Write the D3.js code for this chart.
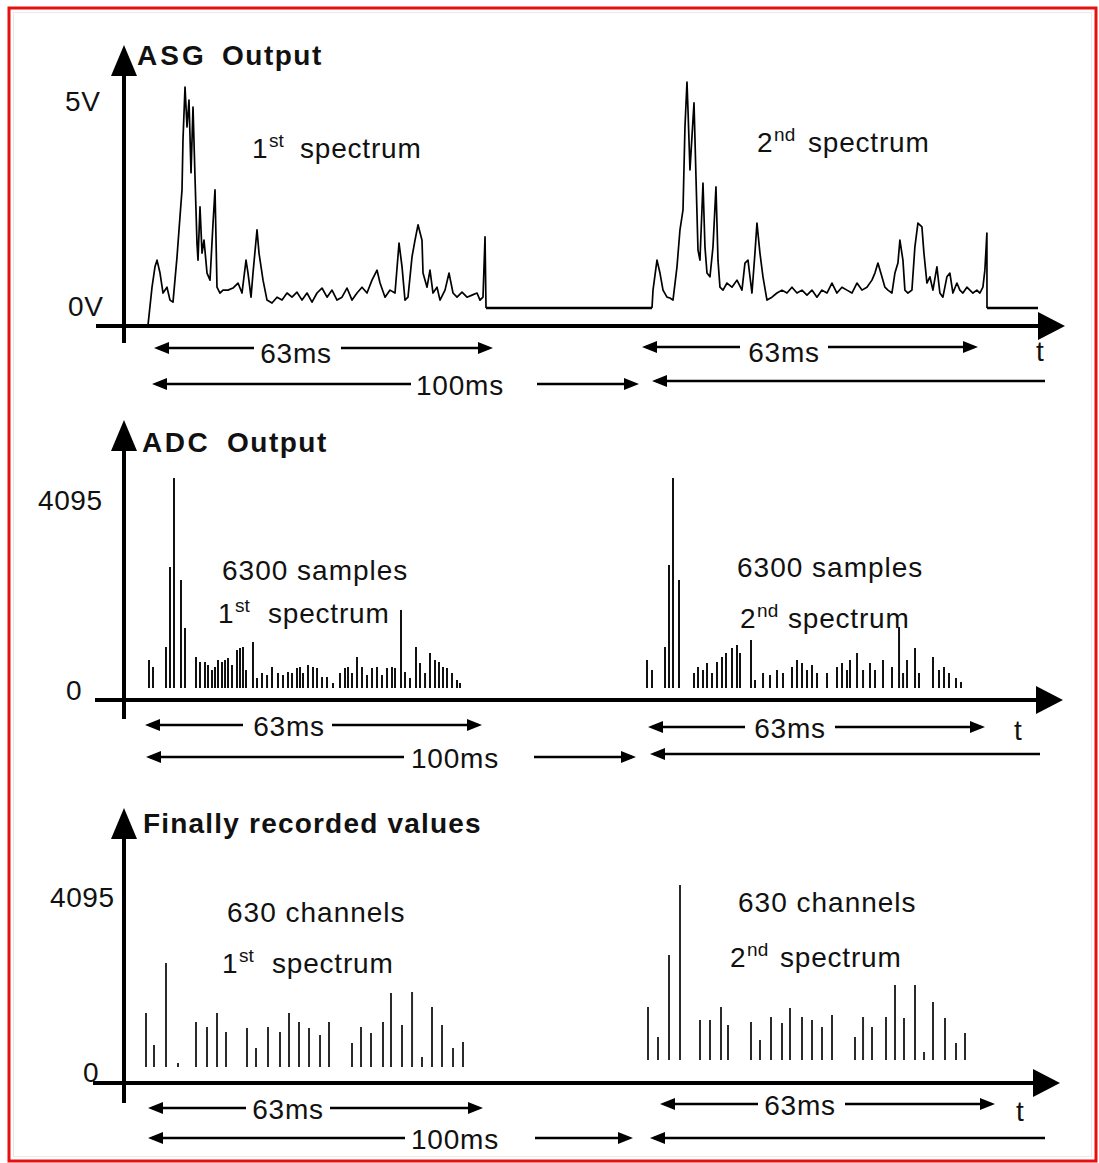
<!DOCTYPE html>
<html>
<head>
<meta charset="utf-8">
<script src="https://cdn.jsdelivr.net/npm/d3@7"></script>
<style>
  html, body { margin: 0; padding: 0; background: #fff; }
  svg { display: block; }
  text { font-family: "Liberation Sans", Arial, sans-serif; fill: #111; }
</style>
</head>
<body>
<svg id="chart" width="1099" height="1163"></svg>
<script>
// ---------------------------------------------------------------
// Data
// ---------------------------------------------------------------
const spectrumMs = 63;      // acquisition window of one spectrum
const periodMs = 100;       // repetition period
const fullScale = 4095;     // 12-bit ADC full scale

// ASG output voltage trace: [ms from spectrum start, volts]
const asgSpectrum1 = [
  [0,-0.41],[0.75,0.50],[1.30,0.99],[1.68,1.15],[2.24,0.84],[2.80,0.36],[3.54,0.50],[4.10,0.19],
  [4.66,0.14],[5.41,1.23],[5.96,2.19],[6.34,2.84],[6.52,4.04],[6.90,5.31],[7.27,4.35],[7.64,5.00],
  [8.02,3.25],[8.39,4.83],[8.76,3.15],[9.13,1.56],[9.32,1.15],[9.69,2.43],[10.07,1.32],[10.44,1.63],
  [11.00,0.84],[11.56,0.67],[12.12,2.04],[12.49,2.84],[12.86,0.50],[13.42,0.36],[13.98,0.43],[14.91,0.43],
  [15.84,0.48],[16.78,0.60],[17.52,0.36],[18.27,1.15],[18.64,0.84],[19.20,0.26],[19.57,0.84],[20.32,1.88],
  [20.69,1.32],[21.44,0.67],[22.18,0.19],[23.11,0.12],[24.05,0.26],[24.98,0.19],[25.91,0.36],[26.84,0.26],
  [27.77,0.38],[28.71,0.19],[29.64,0.36],[30.57,0.14],[31.50,0.36],[32.43,0.48],[33.37,0.26],[34.30,0.43],
  [35.23,0.19],[36.16,0.26],[37.09,0.48],[38.03,0.19],[38.96,0.36],[39.89,0.50],[40.82,0.36],[41.75,0.67],
  [42.69,0.91],[43.25,0.60],[44.18,0.26],[45.11,0.43],[46.04,0.36],[46.79,1.56],[47.35,0.99],[47.90,0.19],
  [48.46,0.26],[49.21,1.23],[49.77,1.63],[50.33,2.00],[51.07,1.63],[51.26,0.84],[52.01,0.50],[52.56,0.91],
  [53.12,0.36],[53.87,0.50],[54.43,0.19],[55.36,0.43],[56.11,0.84],[56.85,0.36],[57.60,0.26],[58.53,0.38],
  [59.46,0.26],[60.39,0.31],[61.33,0.36],[61.88,0.19],[62.44,0.26],[62.82,1.71],[63.00,0.00]
];
const asgSpectrum2 = [
  [0,0],[0.19,0.43],[0.94,1.15],[1.50,0.84],[2.07,0.43],[2.82,0.26],[3.38,0.24],[3.95,0.19],
  [4.70,0.99],[5.26,1.88],[5.83,2.36],[6.20,4.35],[6.58,5.43],[6.77,4.76],[7.14,3.32],[7.90,4.93],
  [8.27,3.15],[8.65,1.39],[9.02,1.15],[9.59,3.00],[9.96,1.47],[10.34,0.84],[10.90,0.75],[11.47,1.47],
  [12.03,2.91],[12.41,1.15],[12.78,0.50],[13.35,0.43],[14.10,0.60],[15.04,0.50],[15.98,0.67],[16.92,0.43],
  [17.48,1.08],[18.05,1.15],[18.80,0.36],[19.36,1.32],[19.74,2.04],[20.30,1.32],[20.87,0.75],[21.62,0.19],
  [22.56,0.26],[23.50,0.36],[24.44,0.43],[25.38,0.36],[26.32,0.50],[27.26,0.36],[28.20,0.43],[29.14,0.31],
  [30.08,0.43],[31.02,0.26],[31.96,0.43],[32.90,0.36],[33.84,0.60],[34.78,0.36],[35.72,0.50],[36.66,0.43],
  [37.60,0.36],[38.54,0.60],[39.48,0.43],[40.42,0.50],[41.36,0.67],[41.92,0.84],[42.49,1.08],[43.24,0.75],
  [43.80,0.50],[44.37,0.43],[45.12,0.36],[45.68,0.84],[46.25,1.08],[46.62,1.63],[47.19,1.15],[47.56,0.43],
  [48.13,0.36],[48.88,0.43],[49.44,1.47],[50.01,2.04],[50.76,1.95],[51.14,1.32],[51.70,0.60],[52.26,0.75],
  [52.83,0.43],[53.58,0.99],[54.14,0.36],[54.71,0.26],[55.46,0.75],[56.02,0.84],[56.59,0.36],[57.34,0.60],
  [57.90,0.43],[58.47,0.36],[59.22,0.50],[59.78,0.43],[60.35,0.36],[61.10,0.43],[61.66,0.36],[62.23,0.50],
  [62.60,0.91],[62.98,1.80],[63.00,0.00]
];

// ADC conversions: [ms from spectrum start, counts]
const adcSpectrum1 = [
  [0.56,546],[1.30,410],[3.73,800],[4.47,2360],[5.22,4095],[6.52,2106],[7.27,1170],[9.32,605],
  [10.07,507],[11.00,507],[11.56,449],[12.30,351],[12.86,410],[13.42,546],[14.17,507],[14.73,546],
  [15.28,585],[16.03,449],[16.96,741],[17.52,780],[18.08,800],[18.64,351],[19.94,897],[20.69,195],
  [21.62,293],[22.56,254],[23.49,410],[24.60,293],[25.54,254],[26.47,312],[27.21,293],[28.15,390],
  [28.70,410],[29.26,293],[30.20,449],[31.13,410],[31.87,390],[32.81,215],[33.74,215],[34.86,98],
  [36.16,293],[37.09,390],[37.65,410],[38.40,293],[39.33,605],[40.26,410],[41.19,254],[42.13,390],
  [43.06,410],[43.99,254],[44.92,390],[45.85,410],[46.41,390],[47.53,1521],[48.28,312],[49.21,195],
  [50.33,800],[51.07,488],[52.01,293],[52.94,683],[53.87,546],[54.61,507],[55.36,410],[56.10,390],
  [57.04,293],[57.97,156],[58.53,98]
];
const adcSpectrum2 = [
  [0.37,546],[1.30,351],[3.73,800],[4.47,2399],[5.22,4095],[6.34,2106],[9.13,293],[9.88,410],
  [10.81,351],[11.56,488],[12.49,293],[13.42,507],[14.35,605],[15.10,683],[16.22,780],[17.15,839],
  [17.71,683],[19.76,936],[20.50,156],[22.00,293],[23.30,254],[24.60,351],[25.72,293],[27.40,410],
  [28.33,546],[29.26,488],[30.20,351],[31.13,449],[32.06,293],[33.92,293],[35.79,410],[36.72,488],
  [37.65,351],[38.21,546],[39.52,683],[40.64,351],[41.94,488],[42.87,351],[44.36,546],[46.04,410],
  [47.35,1190],[48.10,293],[48.84,546],[50.33,780],[51.07,293],[53.68,605],[54.80,351],[55.73,410],
  [56.66,293],[57.97,195],[58.90,117]
];

// Recorded channel values: [ms from spectrum start, counts]
const recordedSpectrum1 = [
  [0.37,1264],[1.86,515],[4.10,2434],[6.34,94],[9.69,1053],[11.74,936],[13.61,1264],[15.28,819],
  [19.20,913],[20.88,445],[23.11,936],[25.35,819],[27.03,1264],[28.89,1053],[30.76,913],[32.81,749],
  [34.48,1053],[38.77,562],[40.45,936],[42.31,796],[44.55,1053],[46.04,1732],[48.09,983],[49.96,1755],
  [51.82,234],[53.68,1404],[55.55,983],[57.60,445],[59.46,585]
];
const recordedSpectrum2 = [
  [0.56,1240],[2.42,538],[4.47,2457],[6.52,4095],[10.25,936],[12.12,936],[14.17,1240],[15.47,819],
  [19.76,889],[21.44,468],[23.49,1006],[25.54,866],[27.03,1217],[29.26,1006],[31.13,936],[32.99,772],
  [34.86,1053],[39.14,538],[40.64,1006],[42.31,772],[44.92,1006],[46.60,1755],[48.28,983],[50.33,1755],
  [52.01,187],[53.68,1357],[55.92,983],[57.97,398],[59.65,632]
];

// Tick labels
const asgTickValues = [5, 0];
const asgTickLabels = ["5V", "0V"];
const countTickValues = [fullScale, 0];
const countTickLabels = ["4095", "0"];

// Texts
const spectrumOrdinals = [["1", "st"], ["2", "nd"]];
const spectrumWord = "spectrum";
const adcNote = "6300 samples";
const recordedNote = "630 channels";
const timeLabel = "t";

// ---------------------------------------------------------------
// Layout
// ---------------------------------------------------------------
const W = 1099, H = 1163;
const svg = d3.select("#chart");

svg.append("rect").attr("x", 9).attr("y", 8).attr("width", W - 12).attr("height", H - 10)
  .attr("fill", "#fff").attr("stroke", "#e61010").attr("stroke-width", 3);
svg.append("rect").attr("x", 13.5).attr("y", 12.5).attr("width", W - 21).attr("height", H - 19)
  .attr("fill", "none").attr("stroke", "#eee8e8").attr("stroke-width", 1);

const FONT = 28, SUP = 19;

function tri(g, pts) {
  g.append("path").attr("d", "M" + pts.map(p => p.join(",")).join("L") + "Z").attr("fill", "#000");
}

// Coordinate frame with arrowed axes
function drawFrame(g, f) {
  g.append("line").attr("x1", f.axisX).attr("x2", f.axisX)
    .attr("y1", f.yTip + 20).attr("y2", f.yEnd)
    .attr("stroke", "#000").attr("stroke-width", 4);
  tri(g, [[f.axisX, f.yTip], [f.axisX - 13, f.yTip + 31], [f.axisX + 13, f.yTip + 31]]);
  g.append("line").attr("x1", f.xStart).attr("x2", f.xTip - 20)
    .attr("y1", f.axisY).attr("y2", f.axisY)
    .attr("stroke", "#000").attr("stroke-width", 4);
  tri(g, [[f.xTip, f.axisY], [f.xTip - 27, f.axisY - 14], [f.xTip - 27, f.axisY + 14]]);
}

// Dimension arrow with optional label in a gap of the shaft
function drawDim(g, d) {
  const hl = 15, hw = 6;
  const segs = d.gap ? [[d.x1 + 4, d.gap[0]], [d.gap[1], d.x2 - 4]] : [[d.x1 + 4, d.x2]];
  segs.forEach(s => g.append("line").attr("x1", s[0]).attr("x2", s[1])
    .attr("y1", d.y).attr("y2", d.y).attr("stroke", "#000").attr("stroke-width", 2.4));
  if (d.heads[0]) tri(g, [[d.x1, d.y], [d.x1 + hl, d.y - hw], [d.x1 + hl, d.y + hw]]);
  if (d.heads[1]) tri(g, [[d.x2, d.y], [d.x2 - hl, d.y - hw], [d.x2 - hl, d.y + hw]]);
  if (d.label) {
    g.append("text").attr("x", d.lx).attr("y", d.y + (d.dy || 11))
      .attr("text-anchor", "middle").attr("font-size", FONT).attr("letter-spacing", 0.8)
      .text(d.label);
  }
}

// "1st spectrum" style label: numeral, raised suffix, word
function drawSpectrumLabel(g, idx, x, xw, baseline) {
  const [num, suf] = spectrumOrdinals[idx];
  const n = g.append("text").attr("x", x).attr("y", baseline).attr("font-size", FONT).text(num);
  const xs = x + n.node().getComputedTextLength() + 1.5;
  g.append("text").attr("x", xs).attr("y", baseline - 11).attr("font-size", SUP).text(suf);
  g.append("text").attr("x", xw).attr("y", baseline).attr("font-size", FONT)
    .attr("letter-spacing", 0.8).text(spectrumWord);
}

function drawTitle(g, parts, baseline) {
  parts.forEach(p => g.append("text").attr("x", p.x).attr("y", baseline)
    .attr("font-size", 28).attr("font-weight", "bold").attr("letter-spacing", p.ls).text(p.text));
}

function drawTicks(g, scale, values, labels, pos) {
  values.forEach((v, i) => g.append("text")
    .attr("x", pos[i].x).attr("y", scale(v) + pos[i].dy)
    .attr("font-size", FONT).attr("letter-spacing", 0.6).text(labels[i]));
}

function drawBars(g, data, xs, ys, color) {
  g.selectAll(null).data(data).enter().append("line")
    .attr("x1", d => xs(d[0])).attr("x2", d => xs(d[0]))
    .attr("y1", ys(0)).attr("y2", d => ys(d[1]))
    .attr("stroke", color).attr("stroke-width", 2);
}

// ---------------------------------------------------------------
// Panel 1: ASG output
// ---------------------------------------------------------------
{
  const g = svg.append("g");
  drawFrame(g, { axisX: 124, yTip: 45, yEnd: 343, axisY: 326, xStart: 96, xTip: 1065 });
  const y = d3.scaleLinear().domain([0, 5]).range([308, 100]);
  const xs1 = d3.scaleLinear().domain([0, spectrumMs]).range([148, 486]);
  const xs2 = d3.scaleLinear().domain([0, spectrumMs]).range([652, 987]);
  const line1 = d3.line().x(d => xs1(d[0])).y(d => y(d[1]));
  const line2 = d3.line().x(d => xs2(d[0])).y(d => y(d[1]));
  g.append("path").attr("d", line1(asgSpectrum1)).attr("fill", "none")
    .attr("stroke", "#000").attr("stroke-width", 1.7).attr("stroke-linejoin", "round");
  g.append("path").attr("d", line2(asgSpectrum2)).attr("fill", "none")
    .attr("stroke", "#000").attr("stroke-width", 1.7).attr("stroke-linejoin", "round");
  // idle level between spectra
  [[xs1(spectrumMs), xs2(0)], [xs2(spectrumMs), 1038]].forEach(s =>
    g.append("line").attr("x1", s[0]).attr("x2", s[1]).attr("y1", y(0)).attr("y2", y(0))
      .attr("stroke", "#000").attr("stroke-width", 2.4));

  drawTicks(g, y, asgTickValues, asgTickLabels, [{ x: 65, dy: 11 }, { x: 68, dy: 8 }]);
  drawTitle(g, [{ x: 137, text: "ASG", ls: 3 }, { x: 222, text: "Output", ls: 1.5 }], 65);
  drawSpectrumLabel(g, 0, 252, 300, 158);
  drawSpectrumLabel(g, 1, 757, 808, 152);
  [
    { y: 348, x1: 154, x2: 493, label: spectrumMs + "ms", lx: 296, gap: [254, 341], heads: [1, 1], dy: 15 },
    { y: 384, x1: 152, x2: 639, label: periodMs + "ms", lx: 460, gap: [411, 537], heads: [1, 1] },
    { y: 347, x1: 642, x2: 978, label: spectrumMs + "ms", lx: 784, gap: [740, 828], heads: [1, 1], dy: 15 },
    { y: 381, x1: 652, x2: 1045, heads: [1, 0] }
  ].forEach(d => drawDim(g, d));
  g.append("text").attr("x", 1036).attr("y", 361).attr("font-size", FONT).text(timeLabel);
}

// ---------------------------------------------------------------
// Panel 2: ADC output
// ---------------------------------------------------------------
{
  const g = svg.append("g");
  drawFrame(g, { axisX: 124, yTip: 420, yEnd: 719, axisY: 700, xStart: 95, xTip: 1063 });
  const y = d3.scaleLinear().domain([0, fullScale]).range([688, 478]);
  const xs1 = d3.scaleLinear().domain([0, spectrumMs]).range([146, 484]);
  const xs2 = d3.scaleLinear().domain([0, spectrumMs]).range([645, 983]);
  drawBars(g, adcSpectrum1, xs1, y, "#111");
  drawBars(g, adcSpectrum2, xs2, y, "#111");

  drawTicks(g, y, countTickValues, countTickLabels, [{ x: 38, dy: 32 }, { x: 66, dy: 12 }]);
  drawTitle(g, [{ x: 142, text: "ADC", ls: 2.5 }, { x: 227, text: "Output", ls: 1.5 }], 452);
  g.append("text").attr("x", 222).attr("y", 580).attr("font-size", FONT).attr("letter-spacing", 1).text(adcNote);
  g.append("text").attr("x", 737).attr("y", 577).attr("font-size", FONT).attr("letter-spacing", 1).text(adcNote);
  drawSpectrumLabel(g, 0, 218, 268, 623);
  drawSpectrumLabel(g, 1, 740, 788, 628);
  [
    { y: 725, x1: 145, x2: 482, label: spectrumMs + "ms", lx: 289, gap: [243, 332], heads: [1, 1] },
    { y: 757, x1: 146, x2: 636, label: periodMs + "ms", lx: 455, gap: [404, 534], heads: [1, 1] },
    { y: 727, x1: 648, x2: 985, label: spectrumMs + "ms", lx: 790, gap: [745, 835], heads: [1, 1] },
    { y: 754, x1: 650, x2: 1040, heads: [1, 0] }
  ].forEach(d => drawDim(g, d));
  g.append("text").attr("x", 1014).attr("y", 740).attr("font-size", FONT).text(timeLabel);
}

// ---------------------------------------------------------------
// Panel 3: finally recorded values
// ---------------------------------------------------------------
{
  const g = svg.append("g");
  drawFrame(g, { axisX: 124, yTip: 808, yEnd: 1103, axisY: 1083, xStart: 93, xTip: 1060 });
  const y1 = d3.scaleLinear().domain([0, fullScale]).range([1067, 892]);
  const y2 = d3.scaleLinear().domain([0, fullScale]).range([1060, 885]);
  const xs1 = d3.scaleLinear().domain([0, spectrumMs]).range([144, 482]);
  const xs2 = d3.scaleLinear().domain([0, spectrumMs]).range([645, 983]);
  drawBars(g, recordedSpectrum1, xs1, y1, "#2a2a2a");
  drawBars(g, recordedSpectrum2, xs2, y2, "#2a2a2a");

  drawTicks(g, y2, countTickValues, countTickLabels, [{ x: 50, dy: 22 }, { x: 83, dy: 22 }]);
  drawTitle(g, [{ x: 143, text: "Finally recorded values", ls: 1.2 }], 833);
  g.append("text").attr("x", 227).attr("y", 922).attr("font-size", FONT).attr("letter-spacing", 1).text(recordedNote);
  g.append("text").attr("x", 738).attr("y", 912).attr("font-size", FONT).attr("letter-spacing", 1).text(recordedNote);
  drawSpectrumLabel(g, 0, 222, 272, 973);
  drawSpectrumLabel(g, 1, 730, 780, 967);
  [
    { y: 1108, x1: 148, x2: 483, label: spectrumMs + "ms", lx: 288, gap: [246, 330], heads: [1, 1] },
    { y: 1138, x1: 148, x2: 633, label: periodMs + "ms", lx: 455, gap: [405, 535], heads: [1, 1] },
    { y: 1104, x1: 660, x2: 995, label: spectrumMs + "ms", lx: 800, gap: [758, 845], heads: [1, 1] },
    { y: 1138, x1: 650, x2: 1045, heads: [1, 0] }
  ].forEach(d => drawDim(g, d));
  g.append("text").attr("x", 1016).attr("y", 1121).attr("font-size", FONT).text(timeLabel);
}
</script>
</body>
</html>
